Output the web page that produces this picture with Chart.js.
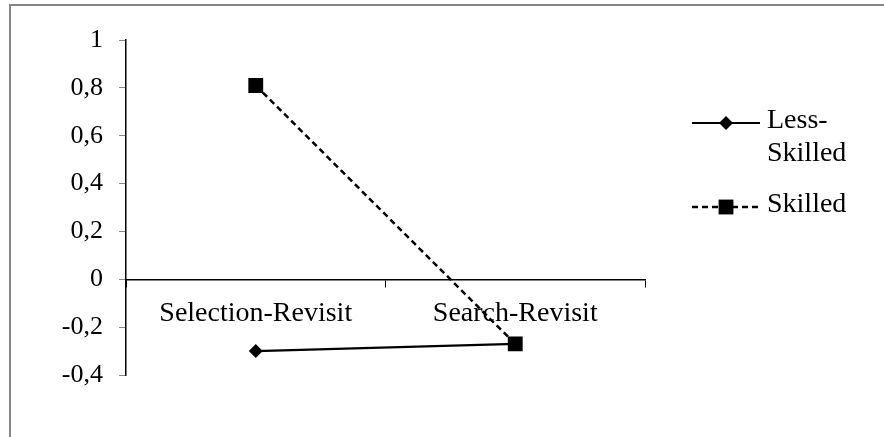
<!DOCTYPE html>
<html>
<head>
<meta charset="utf-8">
<script src="https://cdn.jsdelivr.net/npm/chart.js@4"></script>
<style>
  body { margin: 0; background: #fff; }
  #wrap { position: relative; width: 884px; height: 437px; overflow: hidden; }
  #frame { position: absolute; left: 9px; top: 4px; width: 1000px; height: 600px;
           border-left: 2px solid #868686; border-top: 2px solid #868686; }
  #c { position: absolute; left: 0; top: 0; }
</style>
</head>
<body>
<div id="wrap">
  <div id="frame"></div>
  <canvas id="c" width="884" height="437"></canvas>
</div>
<script>
const categories = ['Selection-Revisit', 'Search-Revisit'];
const lessSkilled = [-0.30, -0.27];
const skilled = [0.81, -0.27];
const seriesNames = [['Less-', 'Skilled'], ['Skilled']];

const serif = 'Liberation Serif, Times New Roman, serif';

// hand-drawn legend so the first label can wrap onto two lines
const sideLegend = {
  id: 'sideLegend',
  afterDraw(chart) {
    const ctx = chart.ctx;
    const rows = [123, 207];
    ctx.save();
    chart.data.datasets.forEach((ds, i) => {
      const y = rows[i];
      ctx.strokeStyle = ds.borderColor;
      ctx.lineWidth = ds.borderWidth;
      ctx.setLineDash(ds.borderDash || []);
      ctx.beginPath();
      ctx.moveTo(692, y);
      ctx.lineTo(760, y);
      ctx.stroke();
      ctx.setLineDash([]);
      ctx.fillStyle = ds.pointBackgroundColor;
      ctx.beginPath();
      if (ds.pointStyle === 'rectRot') {
        const r = ds.pointRadius;
        ctx.moveTo(726, y - r);
        ctx.lineTo(726 + r, y);
        ctx.lineTo(726, y + r);
        ctx.lineTo(726 - r, y);
      } else {
        const h = ds.pointRadius * Math.SQRT1_2;
        ctx.rect(726 - h, y - h, 2 * h, 2 * h);
      }
      ctx.closePath();
      ctx.fill();
      ctx.fillStyle = '#000';
      ctx.font = '28px ' + serif;
      ctx.textBaseline = 'middle';
      seriesNames[i].forEach((line, k) => {
        ctx.fillText(line, 767, y - 2 + k * 33);
      });
    });
    ctx.restore();
  }
};

new Chart(document.getElementById('c'), {
  type: 'line',
  data: {
    labels: categories,
    datasets: [{
      label: 'Less-Skilled',
      data: lessSkilled,
      borderColor: '#000',
      borderWidth: 2.2,
      pointStyle: 'rectRot',
      pointRadius: 7,
      pointBackgroundColor: '#000',
      pointBorderWidth: 0
    }, {
      label: 'Skilled',
      data: skilled,
      borderColor: '#000',
      borderWidth: 2.5,
      borderDash: [6, 4],
      pointStyle: 'rect',
      pointRadius: 10.5,
      pointBackgroundColor: '#000',
      pointBorderWidth: 0
    }]
  },
  options: {
    responsive: false,
    animation: false,
    layout: { padding: { left: 0, top: 40, right: 239, bottom: 62 } },
    plugins: {
      legend: { display: false },
      tooltip: { enabled: false }
    },
    scales: {
      x: {
        position: { y: 0 },
        offset: true,
        grid: { offset: true, drawOnChartArea: false, tickLength: 7, color: '#000' },
        border: { color: '#000', width: 1.5 },
        ticks: { color: '#000', font: { family: serif, size: 28 }, padding: 11, maxRotation: 0 }
      },
      y: {
        min: -0.4,
        max: 1,
        afterFit(scale) { scale.width = 126; },
        grid: { drawOnChartArea: false, tickLength: 7, color: '#888' },
        border: { color: '#000', width: 1.5 },
        ticks: {
          stepSize: 0.2,
          color: '#000',
          padding: 16,
          font: { family: serif, size: 26 },
          callback: v => String(Math.round(v * 10) / 10).replace('.', ',')
        }
      }
    }
  },
  plugins: [sideLegend]
});
</script>
</body>
</html>
